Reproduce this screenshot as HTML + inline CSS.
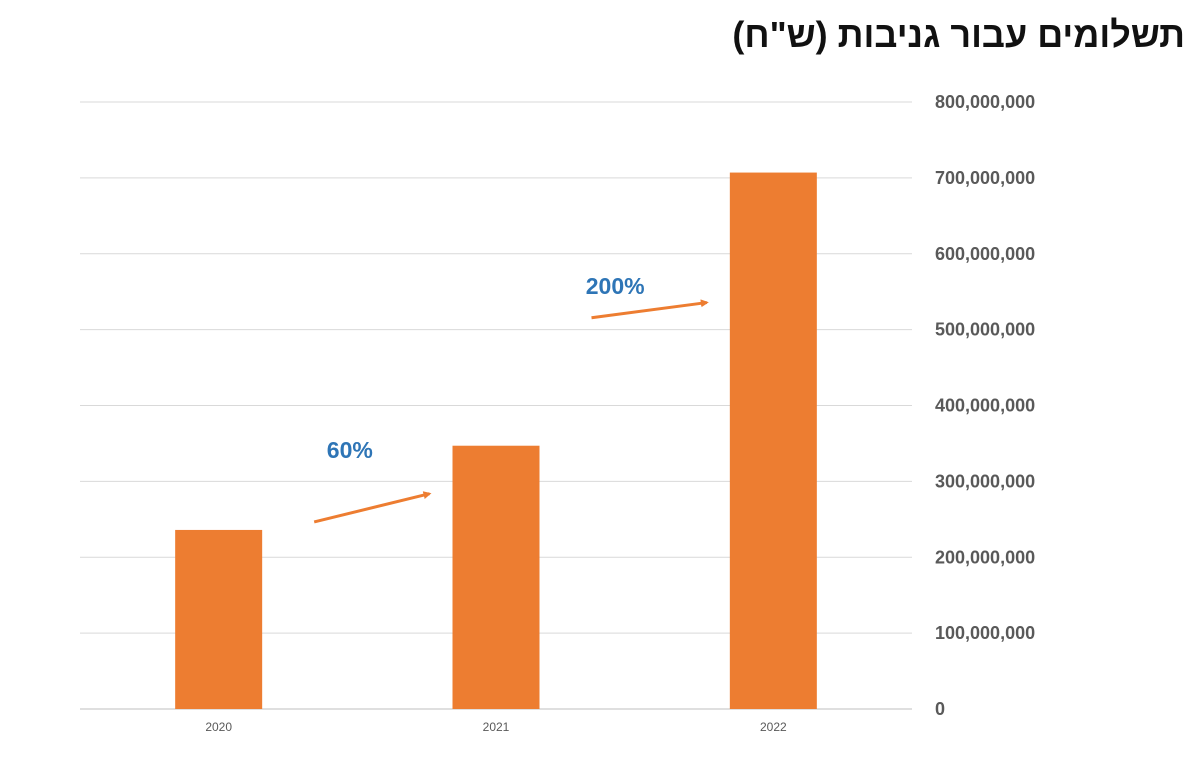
<!DOCTYPE html>
<html><head><meta charset="utf-8">
<style>
html,body{margin:0;padding:0;background:#fff;}
body{width:1200px;height:770px;position:relative;overflow:hidden;font-family:"Liberation Sans","Noto Sans CJK SC",sans-serif;}
#title{position:absolute;right:15px;top:14px;font-size:36px;font-weight:bold;color:#111;direction:rtl;white-space:nowrap;font-family:"Liberation Sans","Noto Sans CJK SC","DejaVu Sans",sans-serif;}
svg{position:absolute;left:0;top:0;}
</style></head><body>
<div id="title">תשלומים עבור גניבות (ש"ח)</div>
<svg id="chart" width="1200" height="770"></svg>
<script>
const categories=["2020","2021","2022"];
const values=[236000000,347000000,707000000];
const yTicks=[0,100000000,200000000,300000000,400000000,500000000,600000000,700000000,800000000];
const tickLabels=["0","100,000,000","200,000,000","300,000,000","400,000,000","500,000,000","600,000,000","700,000,000","800,000,000"];
const growthLabels=["60%","200%"];

const NS="http://www.w3.org/2000/svg";
const svg=document.getElementById('chart');
const x0=80,x1=912,yBase=709,yTop=102,yMax=800000000;
const y=v=>yBase-(v/yMax)*(yBase-yTop);
const band=(x1-x0)/categories.length;
const xc=i=>x0+band*(i+0.5);
const barW=87;
function mk(t,a){const e=document.createElementNS(NS,t);for(const k in a)e.setAttribute(k,a[k]);svg.appendChild(e);return e;}

yTicks.forEach((t,i)=>{
  const g=mk('line',{x1:x0,x2:x1,y1:y(t),y2:y(t),stroke:i===0?'#bfbfbf':'#d9d9d9','stroke-width':1});
  
  
  const tx=mk('text',{x:935,y:y(t)+6,'font-size':18,'font-weight':'bold',fill:'#595959'});
  tx.textContent=tickLabels[i];
  
  
});
categories.forEach((c,i)=>{
  const r=mk('rect',{x:xc(i)-barW/2,y:y(values[i]),width:barW,height:yBase-y(values[i]),fill:'#ed7d31'});
  
  
  const tx=mk('text',{x:xc(i),y:731,'font-size':12,fill:'#595959','text-anchor':'middle'});
  tx.textContent=c;
  
  
});
mk('defs',{}).innerHTML='<marker id="ah" markerWidth="8" markerHeight="8" refX="6" refY="4" orient="auto" markerUnits="userSpaceOnUse"><path d="M0,0 L8,4 L0,8 z" fill="#ed7d31"/></marker>';
// growth arrows between bars
for(let i=0;i<categories.length-1;i++){
  const ax=xc(i)+barW/2+52, bx=xc(i+1)-barW/2-23;
  const ay=y(values[i])-8-(i?120:0), by=y(values[i+1])+48+(i?82:0);
  const l=mk('line',{x1:ax,y1:ay,x2:bx,y2:by,stroke:'#ed7d31','stroke-width':3,'marker-end':'url(#ah)'});
  
  
  const tx=mk('text',{x:(ax+bx)/2+(i?-34:-22),y:i?294:458,'font-size':23,'font-weight':'bold',fill:'#2e75b6','text-anchor':'middle'});
  tx.textContent=growthLabels[i];
  
  
}
</script>
</body></html>
